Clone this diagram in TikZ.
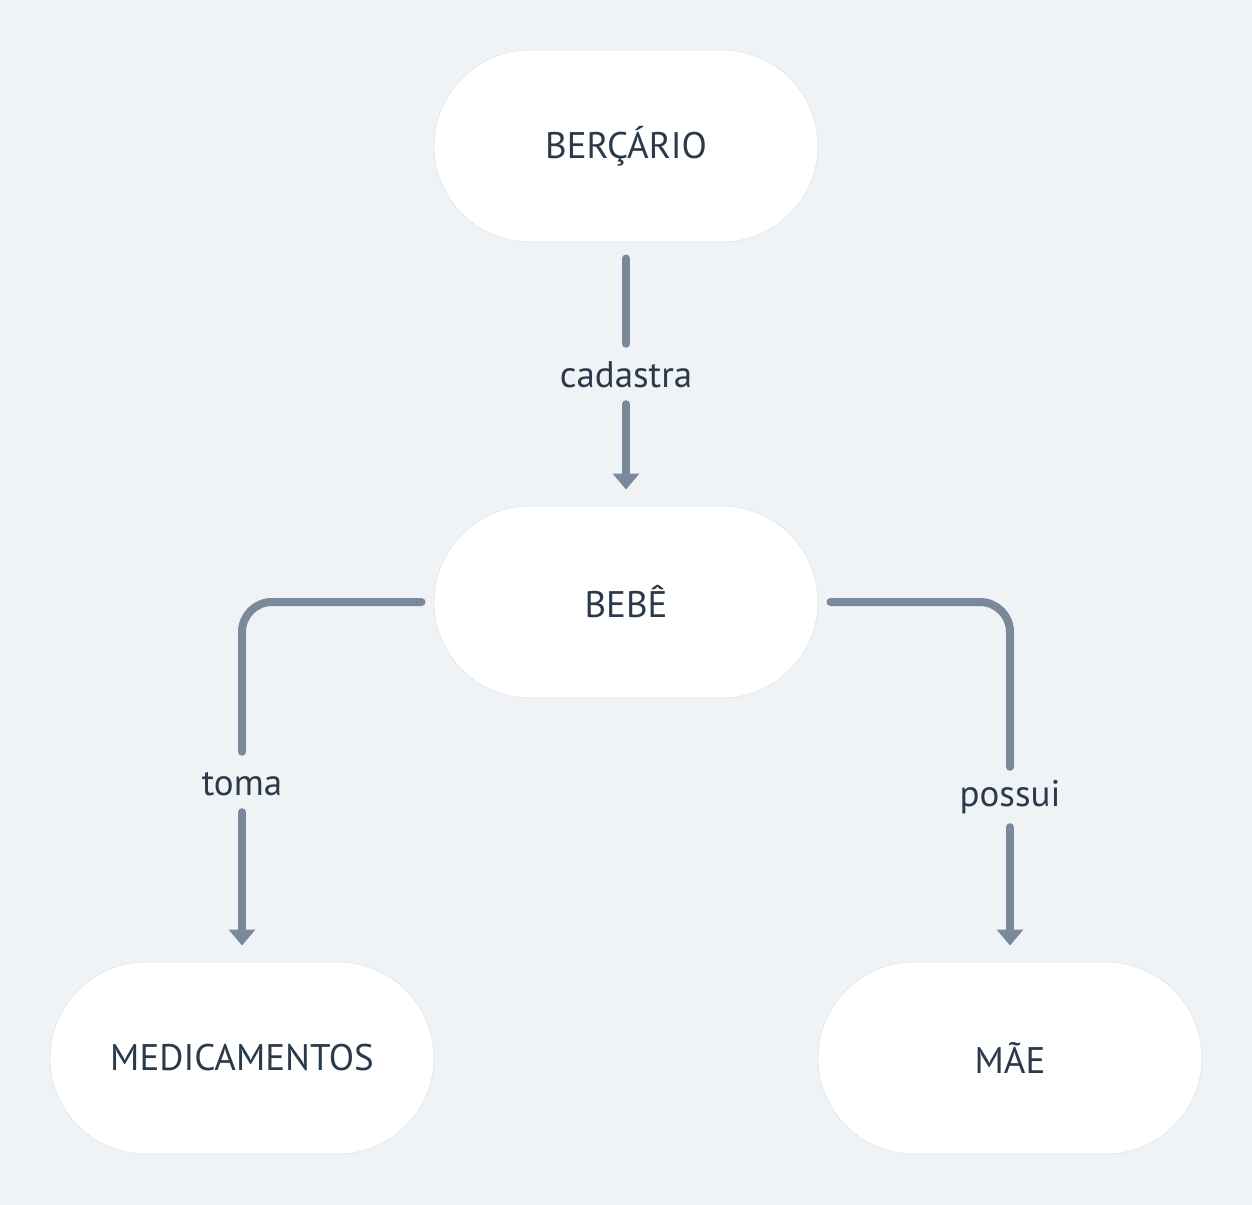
\documentclass[tikz,border=0pt]{standalone}
\usepackage{fontspec}
\setmainfont{PT Sans}
\usetikzlibrary{arrows.meta}
\definecolor{bg}{HTML}{EFF3F6}
\definecolor{txt}{HTML}{2B3A4A}
\definecolor{edge}{HTML}{7A8999}
\definecolor{pillline}{HTML}{E7EBEE}
\tikzset{
  pill/.style={draw=pillline, line width=1pt, fill=white, rounded corners=96pt,
    minimum width=384pt, minimum height=192pt, inner sep=0pt, text=txt,
    font=\fontsize{37}{44}\selectfont},
  lbl/.style={fill=none, inner sep=0pt, minimum height=60pt, minimum width=10pt,
    text=txt, font=\fontsize{37}{44}\selectfont, text height=27pt, text depth=0pt},
  conn/.style={draw=edge, line width=8pt, line cap=round, rounded corners=30pt},
  arr/.style={conn, -{Triangle[width=26pt,length=16pt]}}
}
\begin{document}
\begin{tikzpicture}[x=1pt,y=-1pt]
\useasboundingbox (0,0) rectangle (1252,1204);
\fill[bg] (-4,-4) rectangle (1256,1208);
\node[pill] (berc) at (626,146) {BERÇÁRIO};
\node[pill] (bebe) at (626,602) {BEBÊ};
\node[pill] (med) at (242,1058) {MEDICAMENTOS};
\node[pill] (mae) at (1010,1058) {MÃE};
\node[lbl] (lcad) at (626,374) {cadastra};
\node[lbl] (ltoma) at (242,782) {toma};
\node[lbl, text depth=8pt, text height=27pt] (lpos) at (1010,797) {possui};
\coordinate (cl) at (242,602);
\coordinate (cr) at (1010,602);
% cadastra
\draw[conn, shorten <=16pt] (berc.south) -- (lcad.north);
\draw[arr, shorten >=16pt] (lcad.south) -- (bebe.north);
% toma
\draw[conn, shorten <=12pt] (bebe.west) -- (cl) -- (ltoma.north);
\draw[arr, shorten >=16pt] (ltoma.south) -- (med.north);
% possui
\draw[conn, shorten <=12pt] (bebe.east) -- (cr) -- (lpos.north);
\draw[arr, shorten >=16pt] (lpos.south) -- (mae.north);
\end{tikzpicture}
\end{document}
